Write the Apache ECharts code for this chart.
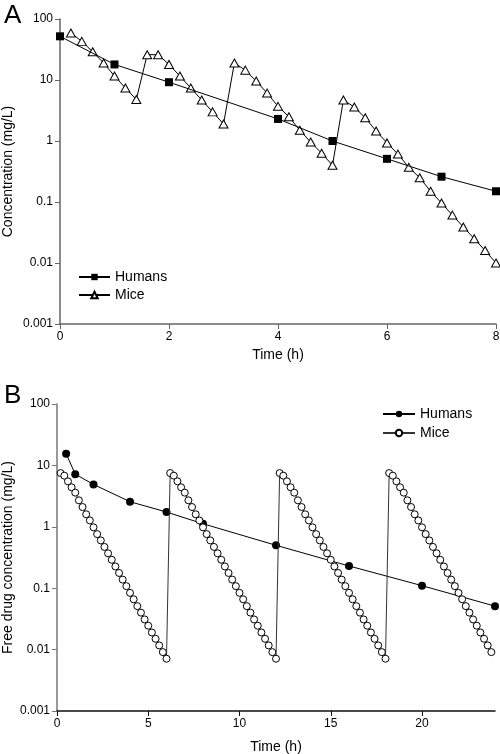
<!DOCTYPE html>
<html>
<head>
<meta charset="utf-8">
<script src="https://cdn.jsdelivr.net/npm/echarts@6/dist/echarts.min.js"></script>
<style>
html,body{margin:0;padding:0;background:#fff;}
#chart{width:500px;height:754px;}
</style>
</head>
<body>
<div id="chart"></div>
<script>
// Panel A
var humansATime = [0, 1, 2, 4, 5, 6, 7, 8];
var humansAConc = [52, 18, 9.2, 2.3, 1.0, 0.51, 0.26, 0.15];
var miceATime = [0.2,0.4,0.6,0.8,1.0,1.2,1.4,1.6,1.8,2.0,2.2,2.4,2.6,2.8,3.0,3.2,3.4,3.6,3.8,4.0,4.2,4.4,4.6,4.8,5.0,5.2,5.4,5.6,5.8,6.0,6.2,6.4,6.6,6.8,7.0,7.2,7.4,7.6,7.8,8.0];
var miceAConc = [59,43,29,19,11.6,7.4,4.8,26,26,18,11.6,7.4,4.7,3.0,1.9,19,14.5,9.6,6.1,3.7,2.5,1.5,0.96,0.63,0.4,4.7,3.6,2.4,1.46,0.93,0.61,0.37,0.25,0.15,0.096,0.061,0.039,0.025,0.016,0.01];
// Panel B
var humansBTime = [0.5, 1, 2, 4, 6, 8, 12, 16, 20, 24];
var humansBConc = [15.5, 7.2, 4.9, 2.56, 1.74, 1.12, 0.5, 0.23, 0.11, 0.051];
var miceBTime = [
 0.2,0.4,0.6,0.8,1.0,1.2,1.4,1.6,1.8,2.0,2.2,2.4,2.6,2.8,3.0,3.2,3.4,3.6,3.8,4.0,4.2,4.4,4.6,4.8,5.0,5.2,5.4,5.6,5.8,6.0,
 6.2,6.4,6.6,6.8,7.0,7.2,7.4,7.6,7.8,8.0,8.2,8.4,8.6,8.8,9.0,9.2,9.4,9.6,9.8,10.0,10.2,10.4,10.6,10.8,11.0,11.2,11.4,11.6,11.8,12.0,
 12.2,12.4,12.6,12.8,13.0,13.2,13.4,13.6,13.8,14.0,14.2,14.4,14.6,14.8,15.0,15.2,15.4,15.6,15.8,16.0,16.2,16.4,16.6,16.8,17.0,17.2,17.4,17.6,17.8,18.0,
 18.2,18.4,18.6,18.8,19.0,19.2,19.4,19.6,19.8,20.0,20.2,20.4,20.6,20.8,21.0,21.2,21.4,21.6,21.8,22.0,22.2,22.4,22.6,22.8,23.0,23.2,23.4,23.6,23.8];
var miceBConc = [
 7.5,6.8,5.5,4.4,3.6,2.7,2.1,1.6,1.27,0.98,0.76,0.6,0.47,0.37,0.29,0.226,0.177,0.138,0.108,0.084,0.066,0.051,0.040,0.031,0.0245,0.019,0.015,0.0117,0.0091,0.0071,
 7.5,6.8,5.5,4.4,3.6,2.7,2.1,1.6,1.27,0.98,0.76,0.6,0.47,0.37,0.29,0.226,0.177,0.138,0.108,0.084,0.066,0.051,0.040,0.031,0.0245,0.019,0.015,0.0117,0.0091,0.0071,
 7.5,6.8,5.5,4.4,3.6,2.7,2.1,1.6,1.27,0.98,0.76,0.6,0.47,0.37,0.29,0.226,0.177,0.138,0.108,0.084,0.066,0.051,0.040,0.031,0.0245,0.019,0.015,0.0117,0.0091,0.0071,
 7.5,6.8,5.5,4.4,3.6,2.7,2.1,1.6,1.27,0.98,0.76,0.6,0.47,0.37,0.29,0.226,0.177,0.138,0.108,0.084,0.066,0.051,0.040,0.031,0.0245,0.019,0.015,0.0117,0.0091];
var xTicksA = [0, 2, 4, 6, 8];
var xTicksB = [0, 5, 10, 15, 20];
var yTickLabels = ['0.001', '0.01', '0.1', '1', '10', '100'];

function pairs(t, v){ return t.map(function(x,i){ return [x, v[i]]; }); }
function yFmt(val){
  var e = Math.round(Math.log(val)/Math.LN10);
  return yTickLabels[e + 3];
}
var FONT = 'Liberation Sans, Arial, sans-serif';

function yAxis(idx, name, gap, color){
  return {
    type: 'log', logBase: 10, min: 0.001, max: 100, gridIndex: idx,
    name: name, nameLocation: 'middle', nameGap: gap, nameRotate: 90, nameMoveOverlap: false,
    nameTextStyle: {fontFamily: FONT, fontSize: 14, color: '#000'},
    axisLine: {show: true, lineStyle: {color: color, width: 1.5}},
    axisTick: {show: true, length: 5, lineStyle: {color: color, width: 1}},
    minorTick: {show: false},
    splitLine: {show: false},
    axisLabel: {fontFamily: FONT, fontSize: 12, color: '#000', margin: 7, formatter: yFmt}
  };
}
function xAxis(idx, max, ticks, color, gap){
  return {
    type: 'value', min: 0, max: max, gridIndex: idx,
    name: 'Time (h)', nameLocation: 'middle', nameGap: gap, nameMoveOverlap: false,
    nameTextStyle: {fontFamily: FONT, fontSize: 14, color: '#000'},
    axisLine: {show: true, onZero: false, lineStyle: {color: color, width: 1.5}},
    axisTick: {show: true, length: 5, customValues: ticks, lineStyle: {color: color, width: 1}},
    splitLine: {show: false},
    axisLabel: {fontFamily: FONT, fontSize: 12, color: '#000', margin: 7, customValues: ticks}
  };
}

var chart = echarts.init(document.getElementById('chart'), null, {renderer: 'canvas'});
chart.setOption({
  animation: false,
  backgroundColor: '#fff',
  title: [
    {text: 'A', left: -1, top: -2, textStyle: {fontFamily: FONT, fontSize: 26, fontWeight: 'normal', color: '#000'}},
    {text: 'B', left: -1, top: 378, textStyle: {fontFamily: FONT, fontSize: 26, fontWeight: 'normal', color: '#000'}}
  ],
  grid: [
    {left: 60, right: 4, top: 19, height: 305, containLabel: false, outerBoundsMode: 'none'},
    {left: 57, right: 5, top: 404, height: 307, containLabel: false, outerBoundsMode: 'none'}
  ],
  xAxis: [xAxis(0, 8, xTicksA, '#666', 24), xAxis(1, 24, xTicksB, '#111', 29)],
  yAxis: [yAxis(0, 'Concentration (mg/L)', 45, '#666'), yAxis(1, 'Free drug concentration (mg/L)', 42, '#777')],
  legend: [
    {orient: 'vertical', left: 78, top: 270, padding: 0, itemWidth: 31, itemHeight: 8, itemGap: 4,
     textStyle: {fontFamily: FONT, fontSize: 14, color: '#000'},
     data: ['Humans', 'Mice'].map(function(n){ return {name: n}; })},
    {orient: 'vertical', left: 382, top: 407, padding: 0, itemWidth: 32, itemHeight: 8, itemGap: 5,
     textStyle: {fontFamily: FONT, fontSize: 14, color: '#000'},
     data: [{name: 'Humans '}, {name: 'Mice '}],
     formatter: function(n){ return n.trim(); }}
  ],
  series: [
    {name: 'Humans', type: 'line', xAxisIndex: 0, yAxisIndex: 0, data: pairs(humansATime, humansAConc),
     symbol: 'rect', symbolSize: 8, lineStyle: {color: '#000', width: 1},
     itemStyle: {color: '#000', borderColor: '#000', borderWidth: 0}, z: 3},
    {name: 'Mice', type: 'line', xAxisIndex: 0, yAxisIndex: 0, data: pairs(miceATime, miceAConc),
     symbol: 'triangle', symbolSize: [9, 8], lineStyle: {color: '#000', width: 1},
     itemStyle: {color: '#fff', borderColor: '#000', borderWidth: 1}, z: 2},
    {name: 'Humans ', type: 'line', xAxisIndex: 1, yAxisIndex: 1, data: pairs(humansBTime, humansBConc),
     symbol: 'circle', symbolSize: 8, lineStyle: {color: '#000', width: 1},
     itemStyle: {color: '#000', borderColor: '#000', borderWidth: 0}, z: 2},
    {name: 'Mice ', type: 'line', xAxisIndex: 1, yAxisIndex: 1, data: pairs(miceBTime, miceBConc),
     symbol: 'circle', symbolSize: 7, lineStyle: {color: '#333', width: 1},
     itemStyle: {color: '#fff', borderColor: '#000', borderWidth: 1}, z: 3}
  ]
});
</script>
</body>
</html>
